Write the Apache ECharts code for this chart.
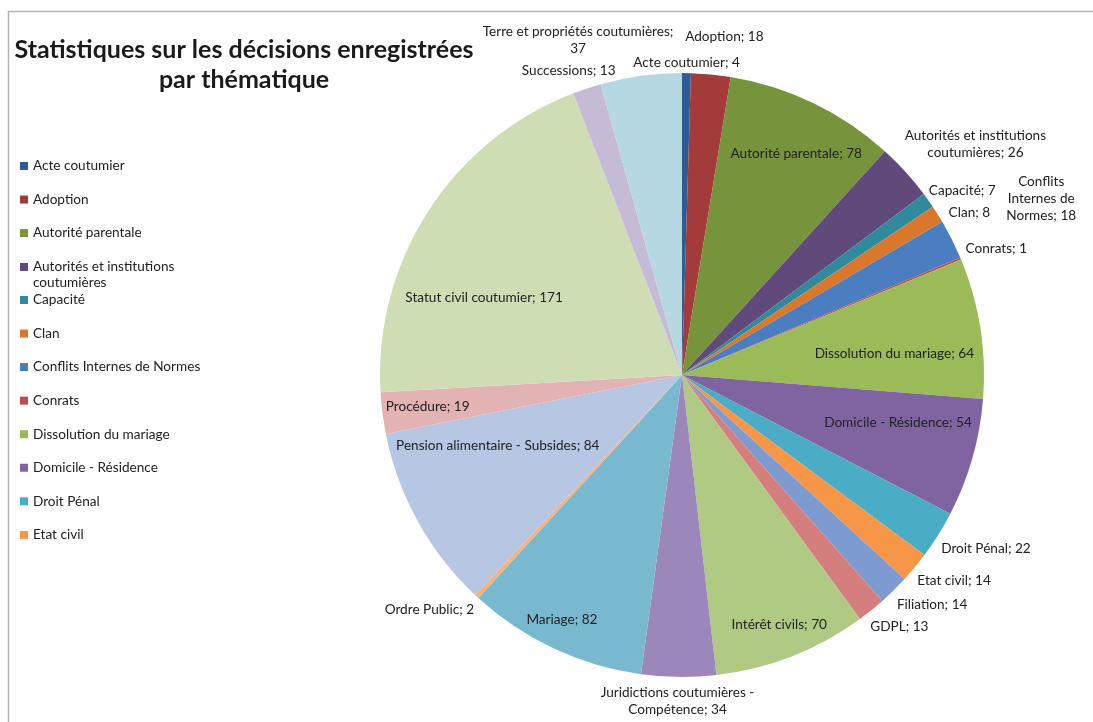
<!DOCTYPE html>
<html><head><meta charset="utf-8">
<script src="https://cdn.jsdelivr.net/npm/echarts@6/dist/echarts.min.js"></script>
<style>html,body{margin:0;padding:0;background:#fff}#main{width:1093px;height:722px}</style>
</head><body><div id="main"></div>
<script>
const categories = [
  'Acte coutumier','Adoption','Autorité parentale','Autorités et institutions coutumières',
  'Capacité','Clan','Conflits Internes de Normes','Conrats','Dissolution du mariage',
  'Domicile - Résidence','Droit Pénal','Etat civil','Filiation','GDPL','Intérêt civils',
  'Juridictions coutumières - Compétence','Mariage','Ordre Public',
  'Pension alimentaire - Subsides','Procédure','Statut civil coutumier','Successions',
  'Terre et propriétés coutumières'
];
const values = [4,18,78,26,7,8,18,1,64,54,22,14,14,13,70,34,82,2,84,19,171,13,37];
const colors = [
  '#2C5D97','#A33B3A','#77933C','#5F4A7B','#31899E','#D9782B','#4A7EC1','#C0504D',
  '#9BBB59','#8064A2','#4BACC6','#F79646','#7E9BD1','#D47F7D','#B0C983','#9B87B9',
  '#79B9CF','#F9B27C','#B7C6E2','#E3B3B3','#CFDDB5','#C6BBD6','#B5D8E3'
];
// legend shows only the first 12 categories, split in groups around the wrapped entry
const legendGroupA = categories.slice(0, 3);
const legendGroupB = categories.slice(3, 4);
const legendGroupC = categories.slice(4, 12);
// leading empty line keeps the first text line level with the swatch
const legendText = {'Autorités et institutions coutumières': '\nAutorités et institutions\ncoutumières'};
const insideLabelCategories = ['Autorité parentale','Dissolution du mariage','Domicile - Résidence',
  'Intérêt civils','Mariage','Pension alimentaire - Subsides','Procédure','Statut civil coutumier'];
const labelText = {
  'Terre et propriétés coutumières': 'Terre et propriétés coutumières;\n{c}',
  'Autorités et institutions coutumières': 'Autorités et institutions\ncoutumières; {c}',
  'Conflits Internes de Normes': 'Conflits\nInternes de\nNormes; {c}',
  'Juridictions coutumières - Compétence': 'Juridictions coutumières -\nCompétence; {c}'
};
// pixel nudges of label boxes (presentation only)
const labelShift = {
  'Adoption': [12, -22],
  'Terre et propriétés coutumières': [-60, -14],
  'Successions': [-10, 7],
  'Autorités et institutions coutumières': [20, 18],
  'Capacité': [3, 12],
  'Clan': [8, 13],
  'Conflits Internes de Normes': [46, -19],
  'Conrats': [1, 5],
  'Dissolution du mariage': [2, 12],
  'Domicile - Résidence': [5, -13],
  'Autorité parentale': [5, 5],
  'Droit Pénal': [7, -12],
  'Etat civil': [9, -12],
  'Filiation': [13, -12],
  'GDPL': [9, -7],
  'Intérêt civils': [1, 3],
  'Juridictions coutumières - Compétence': [-1, 10],
  'Mariage': [-6, 1],
  'Ordre Public': [-19, -17],
  'Pension alimentaire - Subsides': [-12, -25],
  'Procédure': [-6, 0],
  'Statut civil coutumier': [-13, 42]
};

const FONT = 'Lato, "Open Sans", sans-serif';
const CX = 682, CY = 375, R = 302;
const total = values.reduce((a, b) => a + b, 0);
const midAngles = [];
(function () { let acc = 0; values.forEach(v => { midAngles.push((acc + v / 2) / total * 2 * Math.PI); acc += v; }); })();
const insideSet = new Set(insideLabelCategories);

function layoutLabel(params) {
  const i = params.dataIndex;
  const a = midAngles[i];
  const ux = Math.sin(a), uy = -Math.cos(a);
  const w = params.labelRect.width, h = params.labelRect.height;
  const inside = insideSet.has(categories[i]);
  const s = inside ? 1 : -1;
  const cx = s * Math.sign(ux) * w / 2, cy = s * Math.sign(uy) * h / 2;
  const T = inside ? R - 9 : R + 6;
  const uc = ux * cx + uy * cy, cc = cx * cx + cy * cy;
  const d = -uc + Math.sqrt(uc * uc - cc + T * T);
  const sh = labelShift[categories[i]] || [0, 0];
  return { x: CX + d * ux + sh[0], y: CY + d * uy + sh[1], align: 'center', verticalAlign: 'middle' };
}

const legendBase = {
  orient: 'vertical', left: 20, padding: 0,
  icon: 'rect', itemWidth: 8, itemHeight: 8, itemGap: 17.55, selectedMode: false,
  formatter: n => legendText[n] || n,
  textStyle: { fontFamily: FONT, fontSize: 13.6, color: '#222', lineHeight: 16 }
};

const chart = echarts.init(document.getElementById('main'));
chart.setOption({
  animation: false,
  backgroundColor: '#fff',
  graphic: [{ type: 'rect', silent: true, z: -10,
    shape: { x: 8.5, y: 11.5, width: 1200, height: 800 },
    style: { fill: 'none', stroke: '#b4b4b4', lineWidth: 1.5 } }],
  title: {
    text: 'Statistiques sur les décisions enregistrées\npar thématique',
    left: 239, top: 30, textAlign: 'center',
    textStyle: { fontFamily: FONT, fontSize: 25, fontWeight: 'bold', color: '#1a1a1a', lineHeight: 30 }
  },
  legend: [
    Object.assign({}, legendBase, { top: 158, data: legendGroupA }),
    Object.assign({}, legendBase, { top: 243, data: legendGroupB }),
    Object.assign({}, legendBase, { top: 292, data: legendGroupC })
  ],
  series: [{
    type: 'pie', center: [CX, CY], radius: R, startAngle: 90, clockwise: true,
    avoidLabelOverlap: false,
    label: {
      show: true, fontFamily: FONT, fontSize: 13.6, color: '#222', lineHeight: 17,
      formatter: p => (labelText[p.name] || (p.name + '; {c}')).replace('{c}', p.value)
    },
    labelLine: { show: false },
    labelLayout: layoutLabel,
    emphasis: { disabled: true },
    itemStyle: { borderWidth: 0 },
    data: categories.map((n, i) => ({
      name: n, value: values[i], itemStyle: { color: colors[i] },
      label: { position: insideSet.has(n) ? 'inside' : 'outside' }
    }))
  }]
});
</script></body></html>
